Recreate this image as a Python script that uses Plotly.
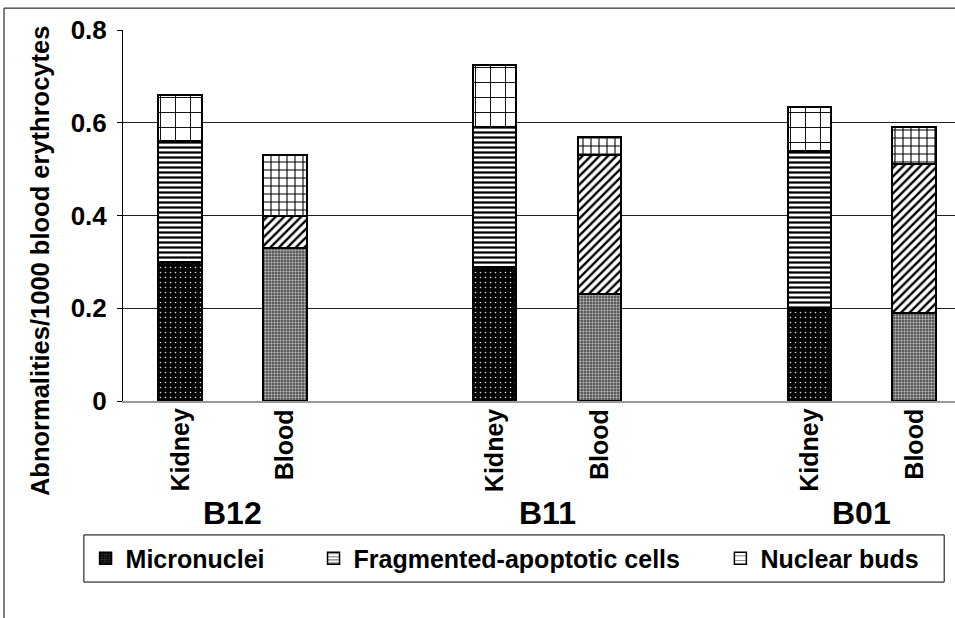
import plotly.graph_objects as go

# bar slots: Kidney/Blood pairs for each site, with an empty slot between sites
sites = ["B12", "B11", "B01"]
tissues = ["Kidney", "Blood", "Kidney", "Blood", "Kidney", "Blood"]
xpos = [0, 1, 3, 4, 6, 7]
site_x = [0.5, 3.5, 6.5]

micronuclei = [0.30, 0.33, 0.29, 0.23, 0.20, 0.19]
fragmented = [0.26, 0.07, 0.30, 0.30, 0.34, 0.32]
nuclear_buds = [0.10, 0.13, 0.135, 0.04, 0.095, 0.08]

series = ["Micronuclei", "Fragmented-apoptotic cells", "Nuclear buds"]

FONT = "Liberation Sans, Arial, sans-serif"


def per_bar(k, b):
    return [k if t == "Kidney" else b for t in tissues]


fig = go.Figure()
fig.add_bar(
    x=xpos, y=micronuclei, name=series[0], showlegend=False,
    marker=dict(color="black", line=dict(color="black", width=2),
                pattern=dict(shape=".", fillmode="replace",
                             bgcolor=per_bar("black", "#3e3e3e"),
                             fgcolor=per_bar("#dddddd", "#b0b0b0"),
                             size=per_bar(5, 3), solidity=per_bar(0.08, 0.5))),
)
fig.add_bar(
    x=xpos, y=fragmented, name=series[1], showlegend=False,
    marker=dict(color="white", line=dict(color="black", width=2),
                pattern=dict(shape=per_bar("-", "/"), fillmode="replace",
                             bgcolor="white", fgcolor="black",
                             size=per_bar(5, 6), solidity=per_bar(0.45, 0.4))),
)
fig.add_bar(
    x=xpos, y=nuclear_buds, name=series[2], showlegend=False,
    marker=dict(color="white", line=dict(color="black", width=2),
                pattern=dict(shape="+", fillmode="replace",
                             bgcolor="white", fgcolor="black",
                             size=per_bar(15, 8), solidity=per_bar(0.12, 0.25))),
)

# legend-only entries (one small legend each so they can be spaced like the original)
legend_marks = [
    dict(color="black", pattern=dict(shape=".", bgcolor="black", fgcolor="#888888", size=3, solidity=0.4)),
    dict(color="white", pattern=dict(shape="-", bgcolor="white", fgcolor="black", size=4, solidity=0.4)),
    dict(color="white", pattern=dict(shape="-", bgcolor="white", fgcolor="black", size=6, solidity=0.2)),
]
for i, (name, mk) in enumerate(zip(series, legend_marks)):
    mk["line"] = dict(color="black", width=1.5)
    fig.add_bar(x=[None], y=[None], name=name, marker=mk, showlegend=True,
                legend="legend" if i == 0 else "legend%d" % (i + 1))

# rotated tissue labels under each bar
for t, x in zip(tissues, xpos):
    fig.add_annotation(x=x, y=-0.016, xref="x", yref="paper", text=t, textangle=-90,
                       showarrow=False, yanchor="top", xanchor="center",
                       font=dict(size=25, color="black", family=FONT, weight="bold"))

for s, x in zip(sites, site_x):
    fig.add_annotation(x=x, y=-0.302, xref="x", yref="paper", text=s,
                       showarrow=False, yanchor="middle", xanchor="center",
                       font=dict(size=32, color="black", family=FONT, weight="bold"))

fig.add_annotation(x=-0.0998, y=0.377, xref="paper", yref="paper", textangle=-90,
                   xanchor="center", yanchor="middle",
                   text="Abnormalities/1000 blood erythrocytes", showarrow=False,
                   font=dict(size=25.5, color="black", family=FONT, weight="bold"))

# outer chart frame and legend box
fig.add_shape(type="rect", xref="paper", yref="paper", x0=-0.143, x1=1.05, y0=-0.7, y1=1.059,
              line=dict(color="black", width=1))
fig.add_shape(type="rect", xref="paper", yref="paper", x0=-0.047, x1=0.987, y0=-0.488, y1=-0.361,
              line=dict(color="black", width=1))

leg = dict(orientation="h", yanchor="middle", xanchor="left", y=-0.4245,
           bgcolor="rgba(0,0,0,0)", borderwidth=0,
           font=dict(size=25, color="black", family=FONT, weight="bold"))
fig.update_layout(
    width=955, height=618,
    margin=dict(l=123, r=0, t=30, b=217),
    paper_bgcolor="white", plot_bgcolor="white",
    barmode="stack", showlegend=True,
    legend=dict(leg, x=-0.045),
    legend2=dict(leg, x=0.229),
    legend3=dict(leg, x=0.718),
    font=dict(family=FONT, color="black"),
)
fig.update_traces(width=0.415)
fig.update_xaxes(range=[-0.544, 7.389], tickvals=xpos, showticklabels=False,
                 showline=True, linecolor="#999999", linewidth=2, ticks="", showgrid=False)
fig.update_yaxes(range=[0, 0.8], tickvals=[0, 0.2, 0.4, 0.6, 0.8],
                 ticktext=["0", "0.2", "0.4", "0.6", "0.8"],
                 tickfont=dict(size=26, color="black", family=FONT, weight="bold"),
                 showline=True, linecolor="black", linewidth=1, ticks="outside", ticklen=5,
                 tickcolor="black", ticklabelstandoff=5,
                 showgrid=True, gridcolor="#222222", gridwidth=1, zeroline=False)

fig.write_html("out.html", config={"displayModeBar": False},
               post_script="document.body.style.margin='0px';")
